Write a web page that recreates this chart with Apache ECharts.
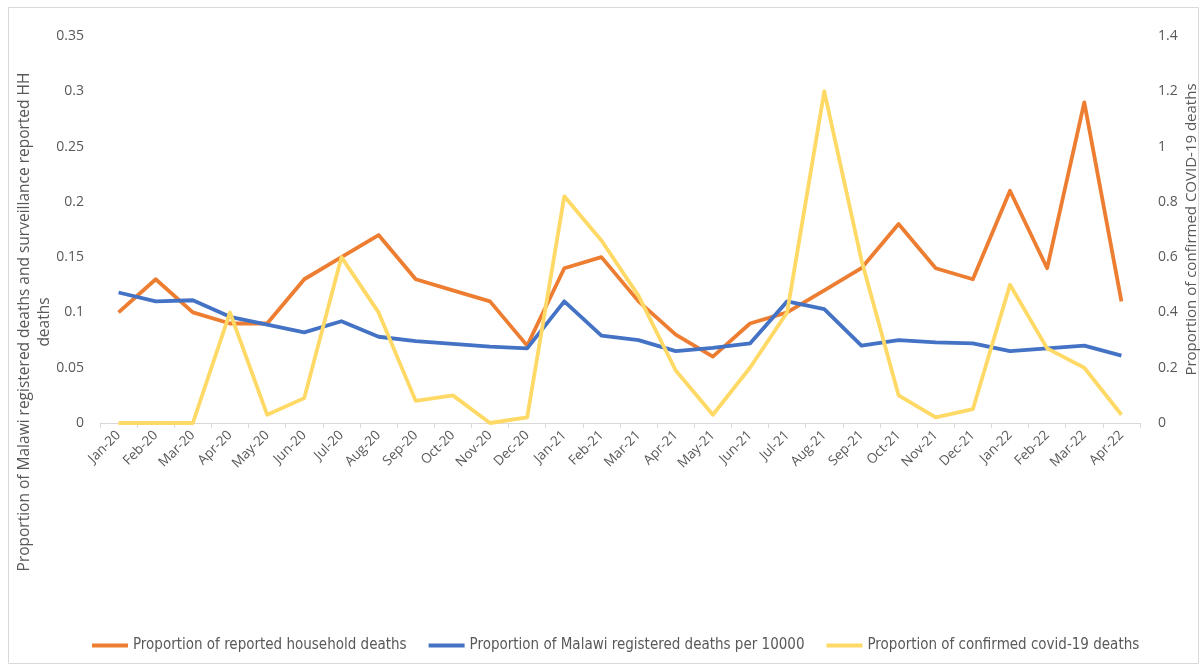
<!DOCTYPE html>
<html>
<head>
<meta charset="utf-8">
<title>Malawi deaths</title>
<script src="https://cdn.jsdelivr.net/npm/echarts@6/dist/echarts.min.js"></script>
<style>
  html,body{margin:0;padding:0;background:#fff;}
  #container{width:1203px;height:667px;}
</style>
</head>
<body>
<div id="container"></div>
<script>
var months = ['Jan-20','Feb-20','Mar-20','Apr-20','May-20','Jun-20','Jul-20','Aug-20','Sep-20','Oct-20','Nov-20','Dec-20',
  'Jan-21','Feb-21','Mar-21','Apr-21','May-21','Jun-21','Jul-21','Aug-21','Sep-21','Oct-21','Nov-21','Dec-21',
  'Jan-22','Feb-22','Mar-22','Apr-22'];
// left axis
var householdDeaths = [0.10,0.13,0.10,0.09,0.09,0.13,0.15,0.17,0.13,0.12,0.11,0.07,
  0.14,0.15,0.11,0.08,0.06,0.09,0.10,0.12,0.14,0.18,0.14,0.13,
  0.21,0.14,0.29,0.11];
var registeredDeaths = [0.118,0.110,0.111,0.096,0.089,0.082,0.092,0.078,0.074,0.0715,0.069,0.0675,
  0.110,0.079,0.075,0.065,0.068,0.072,0.110,0.103,0.070,0.075,0.073,0.072,
  0.065,0.0675,0.070,0.061];
// right axis
var covidDeaths = [0,0,0,0.40,0.03,0.09,0.60,0.40,0.08,0.10,0,0.02,
  0.82,0.66,0.46,0.19,0.03,0.20,0.40,1.20,0.59,0.10,0.02,0.05,
  0.50,0.27,0.20,0.03];

var seriesNames = ['Proportion of reported household deaths','Proportion of Malawi registered deaths per 10000','Proportion of confirmed covid-19 deaths'];
var leftTitle = 'Proportion of Malawi registered deaths and surveillance reported HH\ndeaths';
var rightTitle = 'Proportion of confirmed COVID-19 deaths';

var labelColor = '#595959';
var font = '"Open Sans", sans-serif';

var myChart = echarts.init(document.getElementById('container'));
var option = {
  animation: false,
  color: ['#ED7D31','#4472C4','#FFD966'],
  graphic: [
    {
      type: 'rect',
      shape: {x: 8.5, y: 7.5, width: 1190, height: 656},
      style: {fill: 'none', stroke: '#d9d9d9', lineWidth: 1}
    },
    {
      type: 'text',
      x: 35, y: 322,
      rotation: Math.PI / 2,
      style: {
        text: leftTitle, fill: labelColor, font: '15.5px ' + font,
        align: 'center', verticalAlign: 'middle', lineHeight: 20
      }
    }
  ],
  legend: {
    data: seriesNames,
    left: 87,
    top: 633,
    icon: 'rect',
    itemWidth: 36,
    itemHeight: 4,
    itemGap: 22,
    textStyle: {color: labelColor, fontFamily: '"DejaVu Sans Condensed", sans-serif', fontSize: 15}
  },
  grid: {left: 100, right: 63, top: 36, bottom: 244, outerBoundsMode: 'none'},
  xAxis: {
    type: 'category',
    data: months,
    boundaryGap: true,
    axisLine: {lineStyle: {color: '#d9d9d9'}},
    axisTick: {show: true, length: 5, lineStyle: {color: '#d9d9d9'}},
    axisLabel: {rotate: 45, interval: 0, color: labelColor, fontFamily: font, fontSize: 13.5, margin: 10}
  },
  yAxis: [
    {
      type: 'value',
      min: 0, max: 0.35, interval: 0.05,
      splitLine: {show: false},
      axisLine: {show: false},
      axisTick: {show: false},
      axisLabel: {color: labelColor, fontFamily: font, fontSize: 14, margin: 16,
        formatter: function(v){ return String(+v.toFixed(2)); }}
    },
    {
      type: 'value',
      min: 0, max: 1.4, interval: 0.2,
      splitLine: {show: false},
      axisLine: {show: false},
      axisTick: {show: false},
      name: rightTitle,
      nameLocation: 'middle',
      nameRotate: 90,
      nameGap: 44,
      nameMoveOverlap: false,
      nameTextStyle: {color: labelColor, fontFamily: font, fontSize: 15},
      axisLabel: {color: labelColor, fontFamily: font, fontSize: 14, margin: 18,
        formatter: function(v){ return String(+v.toFixed(1)); }}
    }
  ],
  series: [
    {name: seriesNames[0], type: 'line', yAxisIndex: 0, data: householdDeaths,
      symbol: 'none', lineStyle: {width: 3.8, join: 'round'}},
    {name: seriesNames[1], type: 'line', yAxisIndex: 0, data: registeredDeaths,
      symbol: 'none', lineStyle: {width: 3.8, join: 'round'}},
    {name: seriesNames[2], type: 'line', yAxisIndex: 1, data: covidDeaths,
      symbol: 'none', lineStyle: {width: 3.8, join: 'round'}}
  ]
};
myChart.setOption(option);
</script>
</body>
</html>
